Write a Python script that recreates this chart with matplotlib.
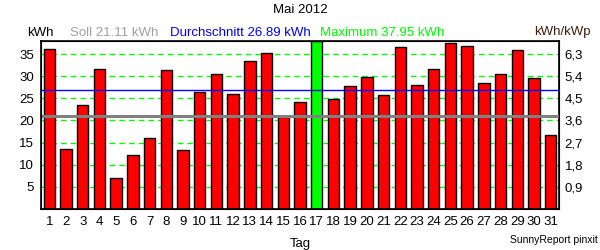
import matplotlib
matplotlib.use("Agg")
import matplotlib.pyplot as plt

# Daily yield for May 2012 (kWh)
days = list(range(1, 32))
energy = [36.1, 13.6, 23.5, 31.6, 7.0, 12.3, 16.0, 31.4, 13.4, 26.4,
          30.4, 25.9, 33.4, 35.2, 21.0, 24.1, 37.95, 24.9, 27.7, 29.8,
          25.7, 36.5, 28.0, 31.6, 37.4, 36.8, 28.4, 30.4, 35.9, 29.5, 16.8]
soll = 21.11
average = 26.89
maximum = 37.95
left_ticks = [5, 10, 15, 20, 25, 30, 35]
right_labels = ["0,9", "1,8", "2,7", "3,6", "4,5", "5,4", "6,3"]

plt.rcParams['font.family'] = ['Liberation Sans', 'DejaVu Sans']
fig = plt.figure(figsize=(6, 2.5), dpi=100)
ax = fig.add_axes([0.0683, 0.164, 0.8634, 0.672])

colors = ["#00ff00" if v == maximum else "#ff0000" for v in energy]
for y in left_ticks:
    ax.axhline(y, color="#00ff00", linestyle=(0, (4, 3)), linewidth=1, zorder=0)
ax.bar(days, energy, width=0.68, color=colors, edgecolor="black", linewidth=1, zorder=2)
ax.axhline(soll, color="#808080", linewidth=2.2, zorder=3)
ax.axhline(average, color="#0000ff", linewidth=1, zorder=3)

ax.set_xlim(0.5, 31.5)
ax.set_ylim(0, maximum)
ax.set_xticks(days)
ax.set_xticklabels([str(d) for d in days])
ax.set_yticks(left_ticks)
ax.tick_params(length=0, labelsize=9.5, pad=5)
for s in ax.spines.values():
    s.set_linewidth(1.2)

ax2 = ax.twinx()
ax2.set_ylim(0, maximum)
ax2.set_yticks(left_ticks)
ax2.set_yticklabels(right_labels)
ax2.tick_params(length=0, labelsize=9.5, pad=4)

ax.set_xlabel("Tag", fontsize=9.5, labelpad=7)
fig.text(0.5, 0.96, "Mai 2012", ha="center", va="center", fontsize=9.5)
fig.text(0.045, 0.87, "kWh", ha="left", va="center", fontsize=9.5)
fig.text(0.117, 0.87, "Soll %.2f kWh" % soll, color="#a0a0a0", ha="left", va="center", fontsize=9.5)
fig.text(0.283, 0.87, "Durchschnitt %.2f kWh" % average, color="#0000ff", ha="left", va="center", fontsize=9.5)
fig.text(0.533, 0.87, "Maximum %.2f kWh" % maximum, color="#00ff00", ha="left", va="center", fontsize=9.5)
fig.text(0.985, 0.87, "kWh/kWp", color="#3a2010", ha="right", va="center", fontsize=9.5)
fig.text(0.997, 0.04, "SunnyReport pinxit", ha="right", va="center", fontsize=7.5)

fig.savefig("out.png", dpi=100)
